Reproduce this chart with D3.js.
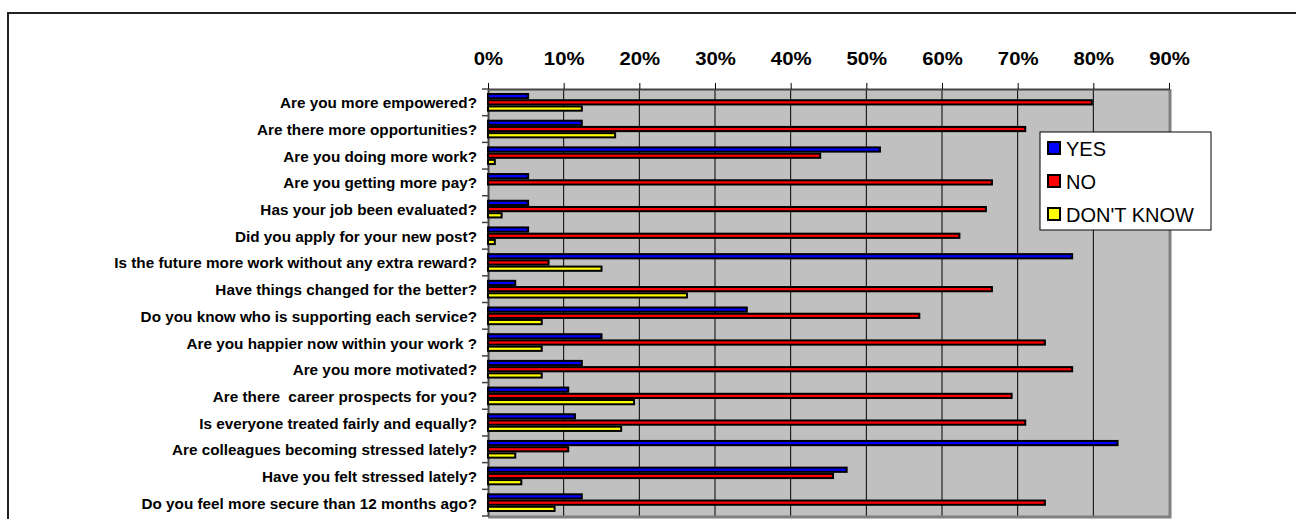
<!DOCTYPE html>
<html>
<head>
<meta charset="utf-8">
<script src="https://cdn.jsdelivr.net/npm/d3@7"></script>
<style>
  html, body { margin: 0; padding: 0; background: #fff; overflow: hidden; }
  svg { display: block; overflow: hidden; }
  svg text { font-family: "Liberation Sans", Arial, sans-serif; }
</style>
</head>
<body>
<div id="chart"></div>
<script>
// Survey questions, top to bottom
const questions = [
  "Are you more empowered?",
  "Are there more opportunities?",
  "Are you doing more work?",
  "Are you getting more pay?",
  "Has your job been evaluated?",
  "Did you apply for your new post?",
  "Is the future more work without any extra reward?",
  "Have things changed for the better?",
  "Do you know who is supporting each service?",
  "Are you happier now within your work ?",
  "Are you more motivated?",
  "Are there  career prospects for you?",
  "Is everyone treated fairly and equally?",
  "Are colleagues becoming stressed lately?",
  "Have you felt stressed lately?",
  "Do you feel more secure than 12 months ago?"
];

const seriesNames = ["YES", "NO", "DON'T KNOW"];
const seriesColors = ["#0000ff", "#ff0000", "#ffff00"];

// percentages
const yesValues = [5.3, 12.4, 51.8, 5.3, 5.3, 5.3, 77.2, 3.6, 34.2, 15.0, 12.4, 10.6, 11.5, 83.2, 47.4, 12.4];
const noValues = [79.8, 71.0, 43.9, 66.6, 65.8, 62.3, 8.0, 66.6, 57.0, 73.6, 77.2, 69.2, 71.0, 10.6, 45.6, 73.6];
const dontKnowValues = [12.4, 16.8, 0.9, 0, 1.8, 0.9, 15.0, 26.3, 7.1, 7.1, 7.1, 19.3, 17.6, 3.6, 4.4, 8.8];

const xTicks = [0, 10, 20, 30, 40, 50, 60, 70, 80, 90];

const width = 1296, height = 519;
const plot = { left: 488, right: 1169, top: 89, bottom: 516 };

const svg = d3.select("#chart").append("svg")
  .attr("width", width)
  .attr("height", height);

// outer chart frame (runs off the right and bottom of the picture)
svg.append("rect")
  .attr("x", 8).attr("y", 13)
  .attr("width", 2000).attr("height", 1000)
  .attr("fill", "#fff")
  .attr("stroke", "#222")
  .attr("stroke-width", 2);

const xScale = d3.scaleLinear().domain([0, 90]).range([plot.left, plot.right]);
const yScale = d3.scaleBand().domain(questions).range([plot.top, plot.bottom]);
const innerScale = d3.scaleBand().domain(seriesNames)
  .range([4, yScale.bandwidth() - 4]);

// plot background
svg.append("rect")
  .attr("x", plot.left).attr("y", plot.top)
  .attr("width", plot.right - plot.left).attr("height", plot.bottom - plot.top)
  .attr("fill", "#c0c0c0");

// gridlines
svg.append("g")
  .selectAll("line")
  .data(xTicks.slice(1, -1))
  .enter()
  .append("line")
  .attr("x1", d => xScale(d)).attr("x2", d => xScale(d))
  .attr("y1", plot.top).attr("y2", plot.bottom)
  .attr("stroke", "#000")
  .attr("stroke-width", 1);

// right and bottom plot border
svg.append("path")
  .attr("d", `M${plot.right + 1},${plot.top}V${plot.bottom + 1}H${plot.left}`)
  .attr("fill", "none")
  .attr("stroke", "#808080")
  .attr("stroke-width", 3);

// top axis
const xAxis = d3.axisTop(xScale)
  .tickValues(xTicks)
  .tickSizeInner(6)
  .tickSizeOuter(0)
  .tickFormat(d => d + "%");

const xAxisG = svg.append("g")
  .attr("class", "x-axis")
  .attr("transform", `translate(0, ${plot.top})`)
  .call(xAxis);
xAxisG.select("path.domain").attr("stroke", "#444").attr("stroke-width", 2);
xAxisG.selectAll(".tick line").attr("stroke", "#000");
xAxisG.selectAll(".tick text")
  .attr("y", 0).attr("dy", 0)
  .attr("transform", "translate(0,-24) scale(1.13,1)")
  .style("font-size", "18px")
  .style("font-weight", "bold")
  .style("fill", "#000");

// left axis
const yAxis = d3.axisLeft(yScale)
  .tickSize(0)
  .tickFormat("");
const yAxisG = svg.append("g")
  .attr("class", "y-axis")
  .attr("transform", `translate(${plot.left}, 0)`)
  .call(yAxis);
yAxisG.select("path.domain").attr("stroke", "#444").attr("stroke-width", 2);

// category separator ticks on the left axis
svg.append("g")
  .selectAll("line")
  .data(questions)
  .enter()
  .append("line")
  .attr("x1", plot.left - 6).attr("x2", plot.left)
  .attr("y1", d => yScale(d)).attr("y2", d => yScale(d))
  .attr("stroke", "#444")
  .attr("stroke-width", 1.5);
svg.append("line")
  .attr("x1", plot.left - 6).attr("x2", plot.left)
  .attr("y1", plot.bottom).attr("y2", plot.bottom)
  .attr("stroke", "#444")
  .attr("stroke-width", 1.5);

// category labels
svg.append("g")
  .selectAll("text")
  .data(questions)
  .enter()
  .append("text")
  .attr("transform", d => `translate(477, ${yScale(d) + yScale.bandwidth() / 2 + 6}) scale(1.07,1)`)
  .attr("text-anchor", "end")
  .style("font-size", "14.3px")
  .style("font-weight", "bold")
  .style("white-space", "pre")
  .style("fill", "#000")
  .text(d => d);

// bars
const seriesValues = [yesValues, noValues, dontKnowValues];
const rows = [];
questions.forEach((q, i) => {
  seriesNames.forEach((s, j) => {
    rows.push({ question: q, series: s, color: seriesColors[j], value: seriesValues[j][i] });
  });
});

svg.append("g")
  .selectAll("rect")
  .data(rows.filter(d => d.value > 0))
  .enter()
  .append("rect")
  .attr("x", xScale(0))
  .attr("y", d => yScale(d.question) + innerScale(d.series) + 1)
  .attr("width", d => xScale(d.value) - xScale(0))
  .attr("height", innerScale.bandwidth() - 2)
  .attr("fill", d => d.color)
  .attr("stroke", "#000")
  .attr("stroke-width", 2);

// legend
const legend = svg.append("g").attr("transform", "translate(1040, 132)");
legend.append("rect")
  .attr("x", 0).attr("y", 0)
  .attr("width", 171).attr("height", 98)
  .attr("fill", "#fff")
  .attr("stroke", "#000")
  .attr("stroke-width", 1);

const legendItems = legend.selectAll("g.item")
  .data(seriesNames)
  .enter()
  .append("g")
  .attr("class", "item")
  .attr("transform", (d, i) => `translate(0, ${16 + i * 33})`);
legendItems.append("rect")
  .attr("x", 8).attr("y", -6)
  .attr("width", 12).attr("height", 12)
  .attr("fill", (d, i) => seriesColors[i])
  .attr("stroke", "#000")
  .attr("stroke-width", 2);
legendItems.append("text")
  .attr("x", 26).attr("y", 8)
  .style("font-size", "20px")
  .style("fill", "#000")
  .text(d => d);
</script>
</body>
</html>
